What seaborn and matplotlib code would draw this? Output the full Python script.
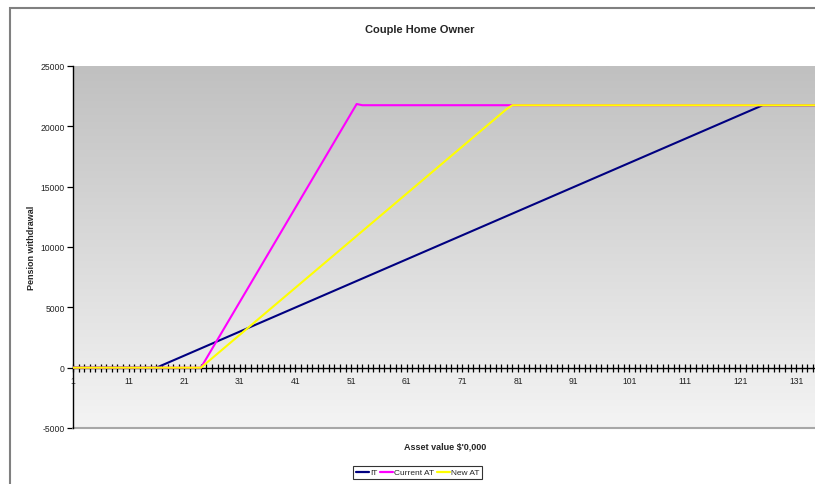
import numpy as np
import pandas as pd
import matplotlib
matplotlib.use("Agg")
import matplotlib.pyplot as plt
from matplotlib.patches import Rectangle
from matplotlib.ticker import FixedLocator, FuncFormatter
import seaborn as sns

# Pension withdrawal vs asset value ($'0,000) – vertices of each schedule
it_x = [1, 16, 125, 135]
it_y = [0, 0, 21750, 21750]

current_at_x = [1, 24, 52, 53, 135]
current_at_y = [0, 0, 21850, 21750, 21750]

new_at_x = [1, 24, 79, 80, 135]
new_at_y = [0, 0, 21450, 21750, 21750]

series_names = ["IT", "Current AT", "New AT"]
series_colors = ["#000080", "#FF00FF", "#FFFF00"]

y_ticks = [-5000, 0, 5000, 10000, 15000, 20000, 25000]
x_label_every = 10

frames = []
for name, xs, ys in [("IT", it_x, it_y),
                     ("Current AT", current_at_x, current_at_y),
                     ("New AT", new_at_x, new_at_y)]:
    frames.append(pd.DataFrame({"asset": xs, "pension": ys, "series": name}))
df = pd.concat(frames, ignore_index=True)

sns.set_style("white")
plt.rcParams["font.family"] = ["Liberation Sans", "DejaVu Sans"]

W, H = 815, 485
fig = plt.figure(figsize=(W / 100, H / 100), dpi=100)
left, right, top, bottom = 73, 815, 67, 429
ax = fig.add_axes([left / W, (H - bottom) / H, (right - left) / W, (bottom - top) / H])

x_min, x_max = 1, 134.4
y_min, y_max = -5000, 25000

# gradient plot-area fill: darker grey at the top, near-white at the bottom
grad = np.linspace(0.0, 1.0, 256).reshape(-1, 1)
cmap = matplotlib.colors.LinearSegmentedColormap.from_list("bg", ["#C0C0C0", "#F4F4F4"])
ax.imshow(grad, extent=[x_min, x_max, y_min, y_max], aspect="auto", cmap=cmap,
          origin="upper", zorder=0, interpolation="bilinear")

sns.lineplot(data=df, x="asset", y="pension", hue="series", hue_order=series_names,
             palette=series_colors, linewidth=1.5, ax=ax, zorder=3, sort=False,
             estimator=None)

ax.set_xlim(x_min, x_max)
ax.set_ylim(y_min, y_max)

# category axis at zero with a tick per category
ax.spines["bottom"].set_position(("data", 0))
ax.spines["bottom"].set_color("black")
ax.spines["bottom"].set_linewidth(1.0)
ax.spines["bottom"].set_zorder(2)
ax.spines["top"].set_visible(False)
ax.spines["right"].set_visible(False)
ax.spines["left"].set_color("black")
ax.spines["left"].set_linewidth(1.0)
ax.axhline(y_min, color="#A8A8A8", lw=1.5, zorder=1, clip_on=False)

cats = list(range(1, 135))
ax.xaxis.set_major_locator(FixedLocator(cats))
ax.xaxis.set_major_formatter(FuncFormatter(
    lambda v, p: f"{int(round(v))}" if (int(round(v)) - 1) % x_label_every == 0 else ""))
ax.tick_params(axis="x", bottom=True, direction="inout", length=6, width=0.9,
               color="black", labelsize=6.2, pad=3, labelcolor="#222222")
ax.yaxis.set_major_locator(FixedLocator(y_ticks))
ax.yaxis.set_major_formatter(FuncFormatter(lambda v, p: f"{int(v)}"))
ax.tick_params(axis="y", left=True, direction="out", length=4, width=0.9,
               color="black", labelsize=6.2, pad=2, labelcolor="#222222")
ax.grid(False)

ax.set_xlabel("Asset value $'0,000", fontsize=6.5, fontweight="bold")
ax.set_ylabel("Pension withdrawal", fontsize=6.5, fontweight="bold")
ax.xaxis.set_label_coords((445 - left) / (right - left), (bottom - 447) / (bottom - top))
ax.yaxis.set_label_coords((32 - left) / (right - left), 0.5)
ax.xaxis.label.set_va("center")
ax.yaxis.label.set_va("center")

fig.text(420 / W, 1 - 30 / H, "Couple Home Owner", ha="center", va="center",
         fontsize=8, fontweight="bold")

# chart-area border
fig.patches.append(Rectangle((10 / W, -0.2), 1.2, (H - 9) / H + 0.2, transform=fig.transFigure,
                             fill=False, edgecolor="#808080", lw=1.5, clip_on=False))

handles, labels = ax.get_legend_handles_labels()
if ax.legend_:
    ax.legend_.remove()
leg = fig.legend(handles, labels, loc="center", bbox_to_anchor=(417.5 / W, 11.5 / H),
                 ncol=3, fontsize=6, frameon=True, fancybox=False, edgecolor="black",
                 handlelength=1.6, handletextpad=0.1, columnspacing=0.3,
                 borderpad=0.3, borderaxespad=0)
leg.get_frame().set_linewidth(0.8)
for ln in leg.get_lines():
    ln.set_linewidth(1.6)

fig.savefig("out.png", dpi=100, facecolor="white")
